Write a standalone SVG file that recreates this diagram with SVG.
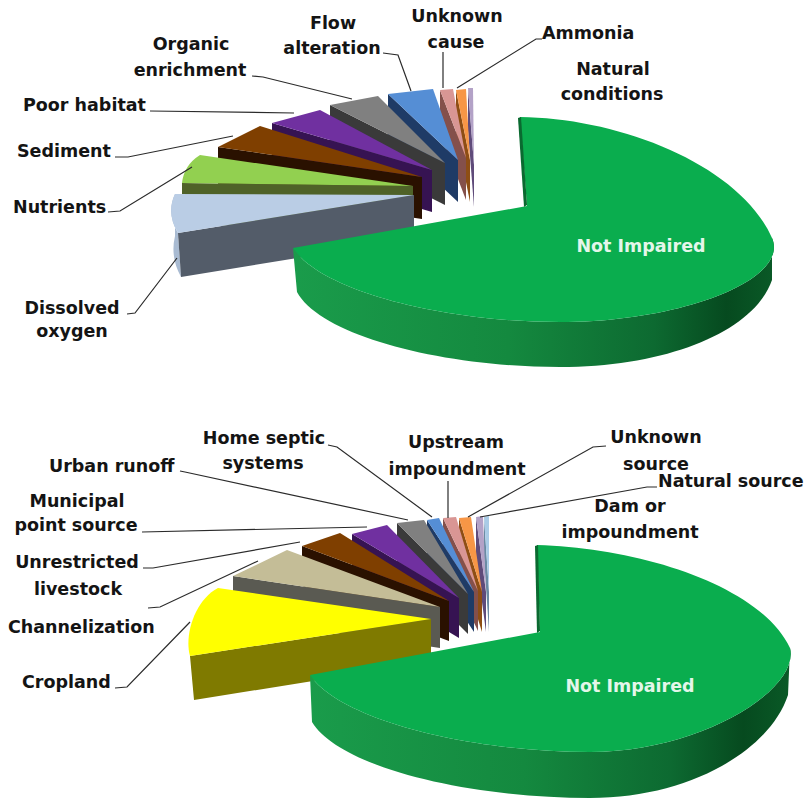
<svg xmlns="http://www.w3.org/2000/svg" width="807" height="801" viewBox="0 0 807 801">
<defs>
<linearGradient id="gside1" x1="290" y1="0" x2="775" y2="0" gradientUnits="userSpaceOnUse">
<stop offset="0" stop-color="#1A9C4B"/><stop offset="0.45" stop-color="#14893F"/><stop offset="0.75" stop-color="#0D6A31"/><stop offset="0.9" stop-color="#064A1F"/><stop offset="1" stop-color="#0A5A27"/>
</linearGradient>
<linearGradient id="gside2" x1="305" y1="0" x2="792" y2="0" gradientUnits="userSpaceOnUse">
<stop offset="0" stop-color="#1A9C4B"/><stop offset="0.45" stop-color="#14893F"/><stop offset="0.75" stop-color="#0D6A31"/><stop offset="0.9" stop-color="#064A1F"/><stop offset="1" stop-color="#0A5A27"/>
</linearGradient>
</defs>
<style>
.lbl{font-family:"DejaVu Sans","Liberation Sans",sans-serif;font-weight:bold;font-size:17.5px;fill:#141414}
.mid{text-anchor:middle}
.ni{font-family:"DejaVu Sans","Liberation Sans",sans-serif;font-weight:bold;font-size:17.5px;fill:#E4F6EA;text-anchor:middle}
.lead{fill:none;stroke:#2b2b2b;stroke-width:1.2}
.gtop{fill:#0AAD4E}
.gedge{fill:#0A6A30}
.lav{fill:#B3A2C7}.lavc{fill:#5F4B7A}
.org{fill:#F79646}.orgc{fill:#8E4E14}
.pnk{fill:#D99694}.pnkc{fill:#84504B}
.blu{fill:#558ED5}.bluc{fill:#1F3B66}
.gry{fill:#808080}.gryc{fill:#3A3A3A}
.pur{fill:#7030A0}.purc{fill:#361352}
.brn{fill:#7F3F00}.brnc{fill:#2A1100}
.lgr{fill:#92D050}.lgrc{fill:#4F6228}
.lbl2{fill:#BACDE5}.lbl2c{fill:#535C69}.lbl2s{fill:#A9BBD2}
.dam{fill:#A9CBE6}.damc{fill:#6A8AA3}
.tan{fill:#C4BD97}.tanc{fill:#5A5A52}
.yel{fill:#FFFF00}.yelc{fill:#7F7A00}
</style>
<rect width="807" height="801" fill="#FFFFFF"/>

<!-- ===== TOP CHART ===== -->
<g id="top-natural-conditions">
<polygon class="lavc" points="468,88 474,165 474,207 468,130"/>
<polygon class="lav" points="474,165 473,88 468,88"/>
<text class="lbl mid" x="613" y="75">Natural</text>
<text class="lbl mid" x="612" y="100">conditions</text>
</g>
<g id="top-ammonia">
<polygon class="orgc" points="456,90 470,160 470,202 456,132"/>
<polygon class="org" points="470,160 466,89 456,90"/>
<text class="lbl" x="542" y="39">Ammonia</text>
</g>
<g id="top-unknown-cause">
<polygon class="pnkc" points="440,90 466,158 466,200 440,132"/>
<polygon class="pnk" points="466,158 453,89 440,90"/>
<text class="lbl mid" x="457" y="22">Unknown</text>
<text class="lbl mid" x="456" y="48">cause</text>
</g>
<g id="top-flow-alteration">
<polygon class="bluc" points="388,94 458,160 458,202 388,136"/>
<polygon class="blu" points="458,160 433,89 388,94"/>
<text class="lbl mid" x="333" y="29">Flow</text>
<text class="lbl mid" x="332" y="54">alteration</text>
</g>
<g id="top-organic-enrichment">
<polygon class="gryc" points="330,105 445,163 445,205 330,147"/>
<polygon class="gry" points="445,163 378,96 330,105"/>
<text class="lbl mid" x="191" y="50">Organic</text>
<text class="lbl mid" x="190" y="76">enrichment</text>
</g>
<g id="top-poor-habitat">
<polygon class="purc" points="272,123 432,170 432,212 272,165"/>
<polygon class="pur" points="432,170 320,110 272,123"/>
<text class="lbl" x="23" y="111">Poor habitat</text>
</g>
<g id="top-sediment">
<polygon class="brnc" points="218,147 422,177 422,219 218,189"/>
<polygon class="brn" points="422,177 260,126 218,147"/>
<text class="lbl" x="17" y="157">Sediment</text>
</g>
<g id="top-nutrients">
<polygon class="lgrc" points="182,183 413,186 413,228 182,225"/>
<path class="lgr" d="M413,186 L200,155 Q184,165 182,183 Z"/>
<text class="lbl" x="13" y="213">Nutrients</text>
</g>
<g id="top-dissolved-oxygen">
<path class="lbl2s" d="M175,194 Q166,213 178,233 L181,277 Q170,257 175,236 Z"/>
<polygon class="lbl2c" points="178,233 414,195 414,239 181,277"/>
<path class="lbl2" d="M414,195 L175,194 Q166,213 178,233 Z"/>
<text class="lbl mid" x="72" y="314">Dissolved</text>
<text class="lbl mid" x="72" y="337">oxygen</text>
</g>
<g id="top-not-impaired">
<path fill="url(#gside1)" d="M293,248 C320,290 440,322 560,322 C680,322 790,280 772,238 L772,280 C755,330 670,367 560,367 C440,367 320,335 297,292 Z"/>
<path class="gtop" d="M527,206 L520,117 C620,118 740,165 772,238 C790,280 680,322 560,322 C440,322 320,290 293,248 Z"/>
<polygon class="gedge" points="518,118 521,117 527,205 524,207"/>
<text class="ni" x="641" y="252">Not Impaired</text>
</g>

<!-- ===== BOTTOM CHART ===== -->
<g id="bottom-dam-or-impoundment">
<polygon class="damc" points="484,517 489,592 489,632 484,557"/>
<polygon class="dam" points="489,592 489,516 484,517"/>
<text class="lbl mid" x="630" y="512">Dam or</text>
<text class="lbl mid" x="630" y="538">impoundment</text>
</g>
<g id="bottom-natural-source">
<polygon class="lavc" points="476,517 486,592 486,632 476,557"/>
<polygon class="lav" points="486,592 483,516 476,517"/>
<text class="lbl" x="658" y="487">Natural source</text>
</g>
<g id="bottom-unknown-source">
<polygon class="orgc" points="459,518 482,592 482,632 459,558"/>
<polygon class="org" points="482,592 471,517 459,518"/>
<text class="lbl mid" x="656" y="443">Unknown</text>
<text class="lbl mid" x="656" y="470">source</text>
</g>
<g id="bottom-upstream-impoundment">
<polygon class="pnkc" points="443,518 478,591 478,631 443,558"/>
<polygon class="pnk" points="478,591 456,517 443,518"/>
<text class="lbl mid" x="456" y="448">Upstream</text>
<text class="lbl mid" x="457" y="475">impoundment</text>
</g>
<g id="bottom-home-septic-systems">
<polygon class="bluc" points="427,520 474,592 474,632 427,560"/>
<polygon class="blu" points="474,592 439,518 427,520"/>
<text class="lbl mid" x="264" y="444">Home septic</text>
<text class="lbl mid" x="263" y="469">systems</text>
</g>
<g id="bottom-urban-runoff">
<polygon class="gryc" points="397,523 468,594 468,634 397,563"/>
<polygon class="gry" points="468,594 424,520 397,523"/>
<text class="lbl" x="49" y="472">Urban runoff</text>
</g>
<g id="bottom-municipal-point-source">
<polygon class="purc" points="352,534 459,598 459,638 352,574"/>
<polygon class="pur" points="459,598 387,525 352,534"/>
<text class="lbl mid" x="77" y="507">Municipal</text>
<text class="lbl mid" x="76" y="531">point source</text>
</g>
<g id="bottom-unrestricted-livestock">
<polygon class="brnc" points="302,546 449,601 449,641 302,586"/>
<polygon class="brn" points="449,601 340,533 302,546"/>
<text class="lbl mid" x="77" y="568">Unrestricted</text>
<text class="lbl mid" x="78" y="595">livestock</text>
</g>
<g id="bottom-channelization">
<polygon class="tanc" points="233,576 440,607 440,648 233,617"/>
<polygon class="tan" points="440,607 287,550 233,576"/>
<text class="lbl" x="8" y="633">Channelization</text>
</g>
<g id="bottom-cropland">
<polygon class="yelc" points="190,656 431,619 431,662 194,700"/>
<path class="yel" d="M431,619 L218,588 C195,600 184,635 190,656 Z"/>
<text class="lbl" x="22" y="688">Cropland</text>
</g>
<g id="bottom-not-impaired">
<path fill="url(#gside2)" d="M310,675 C340,720 470,752 590,752 C700,752 800,690 790,648 L788,695 C770,750 690,798 590,798 C470,798 340,768 312,722 Z"/>
<path class="gtop" d="M540,632 L537,545 C640,548 760,585 790,648 C800,690 700,752 590,752 C470,752 340,720 310,675 Z"/>
<polygon class="gedge" points="535,546 538,545 540,631 537,633"/>
<text class="ni" x="630" y="692">Not Impaired</text>
</g>

<!-- ===== CONNECTORS ===== -->
<g id="connectors">
<polyline class="lead" points="383,53 398,55 411,91"/>
<polyline class="lead" points="443,52 443,88"/>
<polyline class="lead" points="542,39 536,39 457,88"/>
<polyline class="lead" points="252,76 263,77 352,99"/>
<polyline class="lead" points="150,111 294,113"/>
<polyline class="lead" points="115,157 128,157 233,136"/>
<polyline class="lead" points="108,212 120,211 192,167"/>
<polyline class="lead" points="127,314 135,313 177,258"/>
<polyline class="lead" points="328,445 337,447 432,517"/>
<polyline class="lead" points="448,481 448,518"/>
<polyline class="lead" points="606,446 593,447 468,517"/>
<polyline class="lead" points="657,487 647,487 480,517"/>
<polyline class="lead" points="180,471 185,472 408,520"/>
<polyline class="lead" points="142,532 367,527"/>
<polyline class="lead" points="143,568 153,568 300,542"/>
<polyline class="lead" points="148,608 160,607 258,561"/>
<polyline class="lead" points="115,688 127,687 190,622"/>
</g>
</svg>
